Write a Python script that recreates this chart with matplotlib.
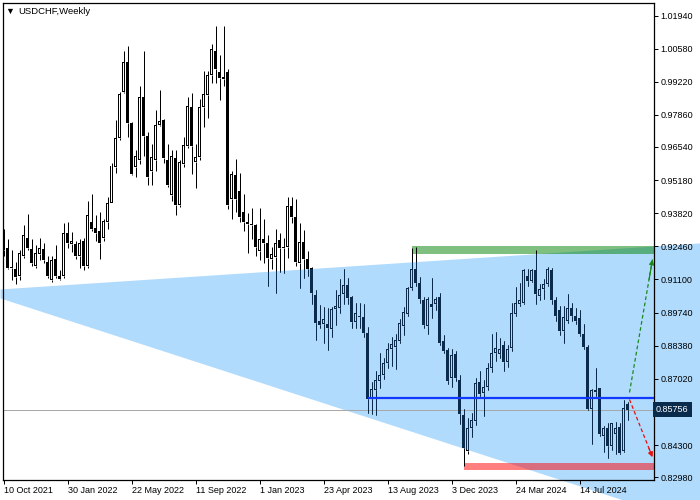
import numpy as np
import matplotlib.pyplot as plt
import matplotlib.transforms as mtransforms
from matplotlib.patches import Polygon, Rectangle

plt.rcParams['font.family'] = ['Liberation Sans', 'DejaVu Sans']

## Weekly USDCHF candles (first bar = week of 10 Oct 2021)
opens = [.9278, .9241, .9159, .9155, .9126, .9208, .9282, .9237, .9167, .9213,
         .9237, .9180, .9106, .9192, .9126, .9126, .9299, .9254, .9254, .9208,
         .9270, .9167, .9344, .9323, .9311, .9282, .9344, .9426, .9570, .9689,
         .9878, 1.0001, .9751, .9570, .9599, .9861, .9701, .9557, .9599, .9746,
         .9763, .9599, .9455, .9607, .9414, .9586, .9660, .9820, .9594, .9611,
         .9820, .9866, .9948, 1.0050, .9960, .9935, .9960, .9442, .9541, .9475,
         .9385, .9344, .9336, .9332, .9225, .9278, .9258, .9192, .9204, .9274,
         .9245, .9245, .9410, .9365, .9176, .9262, .9196, .9159, .9048, .8941,
         .8929, .8929, .8905, .8987, .8991, .9052, .9089, .9036, .8937, .8962,
         .8954, .8892, .8621, .8658, .8691, .8716, .8765, .8826, .8834, .8859,
         .8917, .8970, .9073, .9151, .9097, .9024, .8917, .9011, .9011, .9036,
         .8859, .8822, .8707, .8802, .8699, .8555, .8404, .8498, .8527, .8687,
         .8642, .8670, .8748, .8806, .8802, .8839, .8769, .8830, .8970, .9011,
         .9015, .9126, .9102, .9147, .9044, .9069, .9093, .9147, .9024, .8983,
         .8900, .8941, .8991, .8958, .8950, .8888, .8834, .8580, .8646, .8666,
         .8469, .8502, .8428, .8477, .8506, .8404, .8597]
highs = [.9319, .9278, .9229, .9180, .9229, .9332, .9377, .9278, .9250, .9282,
         .9258, .9208, .9208, .9250, .9147, .9340, .9344, .9303, .9270, .9278,
         .9282, .9434, .9463, .9373, .9385, .9360, .9447, .9590, .9763, .9878,
         1.0050, 1.0067, .9755, .9640, .9903, 1.0050, .9714, .9668, .9804, .9890,
         .9771, .9668, .9640, .9640, .9599, .9693, .9861, .9874, .9668, .9853,
         .9968, .9968, 1.0075, 1.0149, 1.0030, 1.0149, .9976, .9557, .9603, .9549,
         .9463, .9381, .9405, .9336, .9405, .9360, .9291, .9245, .9319, .9299,
         .9282, .9447, .9447, .9442, .9340, .9315, .9225, .9163, .9065, .9007,
         .8995, .8991, .8995, .9065, .9110, .9151, .9118, .9044, .9015, .9015,
         .9011, .8913, .8687, .8736, .8810, .8789, .8851, .8872, .8888, .8946,
         .8995, .9077, .9241, .9245, .9122, .9036, .9036, .9114, .9040, .9056,
         .8880, .8830, .8826, .8818, .8716, .8580, .8543, .8563, .8707, .8736,
         .8699, .8765, .8888, .8896, .8868, .8859, .8839, .9015, .9077, .9097,
         .9155, .9155, .9155, .9229, .9093, .9110, .9163, .9159, .9036, .9003,
         .9003, .9052, .9015, .8991, .8983, .8929, .8839, .8662, .8748, .8666,
         .8510, .8519, .8519, .8523, .8519, .8613, .8605]
lows = [.9208, .9155, .9106, .9093, .9106, .9200, .9229, .9167, .9159, .9188,
        .9176, .9114, .9098, .9114, .9106, .9118, .9241, .9221, .9196, .9159,
        .9147, .9159, .9311, .9270, .9196, .9270, .9319, .9422, .9549, .9681,
        .9874, .9693, .9541, .9529, .9586, .9619, .9496, .9496, .9557, .9742,
        .9590, .9488, .9434, .9373, .9406, .9570, .9648, .9545, .9484, .9599,
        .9738, .9775, .9915, .9915, .9845, .9906, .9401, .9360, .9385, .9344,
        .9311, .9217, .9278, .9208, .9188, .9176, .9085, .9155, .9056, .9139,
        .9135, .9200, .9340, .9167, .9073, .9118, .9126, .9011, .8863, .8909,
        .8851, .8822, .8872, .8921, .8974, .9011, .9011, .8909, .8909, .8909,
        .8872, .8563, .8559, .8555, .8666, .8703, .8748, .8756, .8744, .8851,
        .8880, .8962, .9065, .9085, .9015, .8909, .8888, .8950, .8983, .8839,
        .8810, .8679, .8670, .8695, .8518, .8342, .8395, .8461, .8511, .8630,
        .8551, .8654, .8732, .8777, .8789, .8736, .8752, .8818, .8962, .9003,
        .9011, .9085, .9098, .9011, .9024, .9028, .9085, .9011, .8941, .8880,
        .8851, .8933, .8941, .8929, .8876, .8826, .8572, .8436, .8633, .8469,
        .8401, .8375, .8408, .8395, .8395, .8400, .8531]
closes = [.9229, .9159, .9163, .9122, .9217, .9291, .9241, .9176, .9217, .9241,
          .9188, .9126, .9188, .9126, .9110, .9299, .9258, .9266, .9208, .9258,
          .9167, .9373, .9319, .9299, .9258, .9352, .9422, .9578, .9689, .9870,
          1.0001, .9751, .9545, .9619, .9861, .9701, .9529, .9611, .9746, .9759,
          .9607, .9496, .9619, .9414, .9594, .9664, .9824, .9660, .9611, .9820,
          .9870, .9948, 1.0058, .9976, .9939, .9943, .9414, .9545, .9442, .9365,
          .9344, .9336, .9332, .9245, .9278, .9258, .9200, .9213, .9258, .9241,
          .9241, .9410, .9365, .9180, .9262, .9196, .9151, .9056, .8933, .8921,
          .8946, .8909, .8987, .9000, .9048, .9089, .9032, .8937, .8974, .8954,
          .8892, .8621, .8662, .8699, .8716, .8765, .8826, .8847, .8863, .8933,
          .8978, .9073, .9155, .9097, .9028, .8921, .9028, .8995, .9028, .8851,
          .8818, .8695, .8798, .8707, .8559, .8416, .8502, .8531, .8683, .8638,
          .8670, .8748, .8806, .8830, .8826, .8769, .8826, .8974, .9015, .9024,
          .9147, .9102, .9147, .9052, .9069, .9093, .9151, .9024, .8962, .8900,
          .8954, .8991, .8958, .8941, .8888, .8834, .8580, .8654, .8658, .8477,
          .8502, .8428, .8519, .8502, .8399, .8584, .85756]

date_ticks = [0, 16, 32, 48, 64, 80, 96, 112, 128, 144]
date_labels = ['10 Oct 2021', '30 Jan 2022', '22 May 2022', '11 Sep 2022', '1 Jan 2023',
               '23 Apr 2023', '13 Aug 2023', '3 Dec 2023', '24 Mar 2024', '14 Jul 2024']
price_ticks = [1.01940, 1.00580, 0.99220, 0.97860, 0.96540, 0.95180, 0.93820, 0.92460,
               0.91100, 0.89740, 0.88380, 0.87020, 0.84300, 0.82980]

## Drawn objects (bar index, price)
last_price = 0.85756
support_level = 0.86212
support_from = 91
top_zone = (0.92133, 0.92461)
top_zone_from = 102
low_zone = (0.83257, 0.83545)
low_zone_from = 115
wedge_x = [-0.75, 174.25, 174.25, -0.75]
wedge_y = [0.9069, 0.9258, 0.8100, 0.9032]
up_arrow = [(156.5, 0.8646), (162.25, 0.9192)]
down_arrow = [(156.5, 0.8617), (162.25, 0.8380)]

navy = '#0b2b4c'
wedge_col = '#b0dbfd'

fig = plt.figure(figsize=(7, 5), dpi=100)
ax = fig.add_axes([2.5/700, 20.5/500, 651/700, 477/500])
ax.set_facecolor('none')

## light blue wedge, reaching over the scales too
wedge = Polygon(list(zip(wedge_x, wedge_y)), closed=True, facecolor=wedge_col,
                edgecolor='none', zorder=0.5, clip_on=False)
ax.add_patch(wedge)

xr = 162.5
ax.add_patch(Rectangle((top_zone_from, top_zone[0]), xr - top_zone_from, top_zone[1] - top_zone[0],
                       facecolor='#008000', alpha=0.5, edgecolor='none', zorder=1))
ax.add_patch(Rectangle((low_zone_from, low_zone[0]), xr - low_zone_from, low_zone[1] - low_zone[0],
                       facecolor='#ff0000', alpha=0.5, edgecolor='none', zorder=1))
ax.axhline(last_price, color='#a8a8a8', lw=0.72, zorder=1)

x = np.arange(len(opens))
o = np.array(opens)
c = np.array(closes)
hi = np.array(highs)
lo = np.array(lows)
up = c > o
top = np.maximum(o, c)
bot = np.minimum(o, c)
px = 0.00041  # one screen pixel in price
h = np.maximum(top - bot, px)


def clip_all(arts, clip):
    if clip is None:
        return
    for a in arts:
        a.set_clip_path(clip)


def draw_candles(col, clip=None, z=0.0):
    arts = [ax.vlines(x, top, hi, colors=col, lw=0.72, zorder=3 + z),
            ax.vlines(x, lo, bot, colors=col, lw=0.72, zorder=3 + z)]
    arts += list(ax.bar(x, h, 0.75, bottom=bot, color=col, lw=0, zorder=4 + z))
    clip_all(arts, clip)


def hollow(col, clip=None):
    m = up & (h > 2.5 * px)
    arts = list(ax.bar(x[m], h[m] - 2 * px, 0.25, bottom=bot[m] + px, color=col,
                       lw=0, zorder=4.5 if clip is None else 4.6))
    clip_all(arts, clip)


draw_candles('black')
draw_candles(navy, clip=wedge, z=0.1)
hollow('white')
hollow(wedge_col, clip=wedge)

ax.hlines(support_level, support_from, xr, color='#1038ff', lw=1.6, zorder=5)

## scenario arrows
for pts, col in [(up_arrow, '#1a8a1a'), (down_arrow, '#e81010')]:
    (x0, y0), (x1, y1) = pts
    ax.plot([x0, x1], [y0, y1], color=col, lw=0.9, ls=(0, (3, 2)), zorder=6, clip_on=False)
    ax.annotate('', xy=(x1, y1), xytext=(x0 + (x1 - x0) * 0.85, y0 + (y1 - y0) * 0.85),
                arrowprops=dict(arrowstyle='-|>', color=col, lw=0.9, mutation_scale=7,
                                shrinkA=0, shrinkB=0), zorder=6, annotation_clip=False)

ax.set_xlim(-0.25, xr)
ax.set_ylim(0.82885, 1.02474)

ax.yaxis.tick_right()
ax.set_yticks(price_ticks)
ax.set_yticklabels(['%.5f' % v for v in price_ticks])
ax.tick_params(axis='y', direction='out', length=3, width=0.72, pad=2, labelsize=6.5)
ax.set_xticks(date_ticks)
ax.set_xticklabels(date_labels, ha='left')
ax.tick_params(axis='x', direction='out', length=3, width=0.72, pad=2, labelsize=6.5)
for s in ax.spines.values():
    s.set_color('black')
    s.set_linewidth(0.9)

trans = mtransforms.blended_transform_factory(ax.transAxes, ax.transData)
ax.text(1.004, last_price, '%.5f' % last_price, transform=trans, ha='left', va='center',
        color='white', fontsize=6.5, zorder=10, clip_on=False,
        bbox=dict(boxstyle='square,pad=0.35', fc=navy, ec='none'))

fig.text(5/700, 1 - 11/500, '\u25bc', fontsize=6.5, va='center')
fig.text(18/700, 1 - 11/500, 'USDCHF,Weekly', fontsize=6.8, va='center')

fig.savefig('out.png', dpi=100)
